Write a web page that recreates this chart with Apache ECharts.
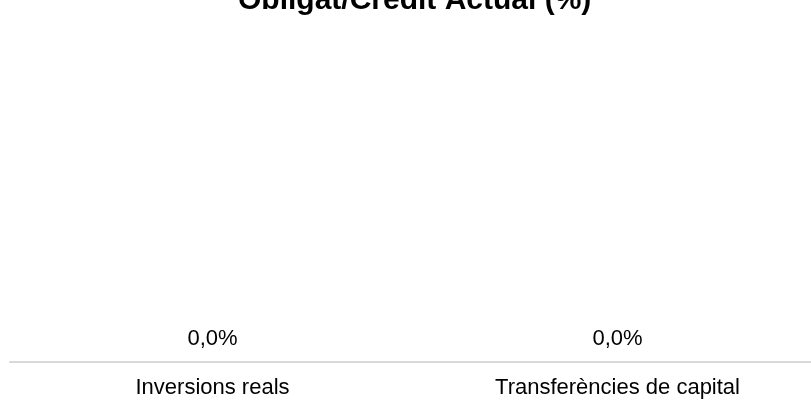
<!DOCTYPE html>
<html>
<head>
<meta charset="utf-8">
<script src="https://cdn.jsdelivr.net/npm/echarts@6/dist/echarts.min.js"></script>
<style>
  html, body { margin: 0; padding: 0; background: #fff; }
  #chart { width: 811px; height: 401px; }
</style>
</head>
<body>
<div id="chart"></div>
<script>
// Obligated / current credit ratio per chapter
const categories = ['Inversions reals', 'Transferències de capital'];
const ratioValues = [0.0, 0.0];
const titleText = 'Obligat/Crèdit Actual (%)';

const fmtPct = v => v.toFixed(1).replace('.', ',') + '%';

const chart = echarts.init(document.getElementById('chart'), null, { renderer: 'canvas' });
chart.setOption({
  animation: false,
  backgroundColor: '#ffffff',
  textStyle: { fontFamily: '"Liberation Sans", Arial, sans-serif' },
  title: {
    text: titleText,
    left: 233,
    top: -19,
    textStyle: {
      fontFamily: '"Liberation Sans", Arial, sans-serif',
      fontSize: 30,
      fontWeight: 'bold',
      color: '#000000'
    }
  },
  grid: {
    left: 10,
    width: 810,
    top: 40,
    bottom: 39,
    containLabel: false,
    outerBoundsMode: 'none'
  },
  xAxis: {
    type: 'category',
    data: categories,
    axisLine: { show: true, lineStyle: { color: '#d9d9d9', width: 2 } },
    axisTick: { show: false },
    axisLabel: {
      margin: 15,
      fontSize: 22,
      color: '#000000',
      fontFamily: '"Liberation Sans", Arial, sans-serif'
    },
    splitLine: { show: false }
  },
  yAxis: {
    type: 'value',
    min: 0,
    max: 1,
    show: false,
    splitLine: { show: false }
  },
  series: [{
    type: 'bar',
    data: ratioValues,
    barWidth: '60%',
    itemStyle: { color: '#4472c4' },
    label: {
      show: true,
      position: 'top',
      distance: 12,
      fontSize: 22,
      color: '#000000',
      fontFamily: '"Liberation Sans", Arial, sans-serif',
      formatter: p => fmtPct(p.value)
    }
  }]
});
</script>
</body>
</html>
